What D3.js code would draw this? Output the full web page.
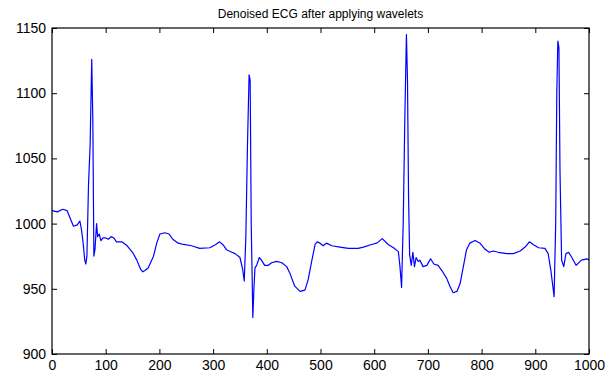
<!DOCTYPE html>
<html>
<head>
<meta charset="utf-8">
<script src="https://cdn.jsdelivr.net/npm/d3@7"></script>
<style>
  body { margin: 0; background: #fff; }
  text { font-family: "Liberation Sans", Arial, sans-serif; fill: #000; }
</style>
</head>
<body>
<div id="chart"></div>
<script>
// sample index
var sampleX = [0, 10, 20, 28, 35, 40, 47, 52, 55, 58, 61, 63, 65, 68, 71, 74, 76, 78, 80, 83, 85, 88, 91, 95, 100,
  105, 110, 115, 120, 130, 140, 150, 158, 165, 169, 173, 179, 189, 195, 201, 210, 218, 225, 235, 245, 260, 275,
  294, 305, 312, 318, 325, 335, 341, 350, 355, 358, 361, 364, 367, 369, 371, 374, 376, 378, 381, 386, 390, 396,
  403, 409, 418, 428, 437, 443, 452, 462, 471, 477, 484, 490, 494, 499, 505, 511, 521, 536, 552, 570, 580, 595,
  605, 615, 626, 636, 645, 648, 651, 654, 657, 660, 662, 664, 666, 669, 672, 675, 678, 682, 685, 691, 698, 705,
  711, 719, 726, 735, 741, 747, 754, 760, 766, 772, 778, 788, 797, 806, 814, 822, 831, 847, 859, 872, 881, 889,
  896, 906, 918, 924, 929, 935, 938, 940, 942, 944, 946, 949, 953, 957, 962, 968, 976, 986, 996, 1000];

// denoised ECG amplitude
var ecgValues = [1010, 1009, 1011, 1010, 1003, 998, 999, 1002, 995, 985, 972, 969, 975, 1030, 1060, 1126, 1080, 975, 980, 1000, 990, 992, 987, 989, 989,
  988, 990, 989, 986, 986, 983, 978, 972, 965, 963, 964, 966, 975, 985, 992, 993, 992, 988, 985, 984, 983, 981,
  981.5, 984, 986, 984, 980, 978, 977, 974, 965, 956, 990, 1060, 1114, 1110, 1000, 928, 950, 966, 968, 974, 972, 968,
  968, 970, 971, 970, 967, 962, 952, 948, 949, 957, 972, 984, 986, 985, 983, 985, 983, 982, 981, 981, 982, 984,
  985, 988.5, 984, 981.5, 978.5, 967, 951, 1000, 1080, 1145, 1110, 1020, 976, 968, 978, 967, 974, 971, 972, 967, 968, 973,
  969, 968, 964, 958, 952, 947, 948, 954, 967, 980, 985, 987, 985, 980.5, 978, 979, 978, 977, 977, 979, 982, 986,
  984, 981.5, 981, 977, 964, 944, 1000, 1100, 1140, 1135, 1040, 972, 967, 977, 978, 974, 968, 972, 973, 972];

var xTicks = [0, 100, 200, 300, 400, 500, 600, 700, 800, 900, 1000];
var yTicks = [900, 950, 1000, 1050, 1100, 1150];
var title = "Denoised ECG after applying wavelets";

var fullwidth = 616, fullheight = 375;
var margin = { top: 28, right: 27, bottom: 21, left: 52 };
var width = fullwidth - margin.left - margin.right;
var height = fullheight - margin.top - margin.bottom;

var svg = d3.select("#chart").append("svg")
  .attr("width", fullwidth)
  .attr("height", fullheight);

var g = svg.append("g")
  .attr("transform", "translate(" + margin.left + "," + margin.top + ")");

var xScale = d3.scaleLinear().domain([0, 1000]).range([0, width]);
var yScale = d3.scaleLinear().domain([900, 1150]).range([height, 0]);

var data = sampleX.map(function(x, i) { return { x: x, y: ecgValues[i] }; });

var line = d3.line()
  .x(function(d) { return xScale(d.x); })
  .y(function(d) { return yScale(d.y); });

g.append("path")
  .datum(data)
  .attr("d", line)
  .attr("fill", "none")
  .attr("stroke", "#0000ff")
  .attr("stroke-width", 1.2)
  .attr("stroke-linejoin", "round");

// matlab style: ticks inward on all four sides
var tl = 5;
var fmt = d3.format("d");
var xb = g.append("g").attr("transform", "translate(0," + height + ")")
  .call(d3.axisBottom(xScale).tickValues(xTicks).tickSize(-tl).tickPadding(6).tickFormat(fmt));
var xt = g.append("g")
  .call(d3.axisTop(xScale).tickValues(xTicks).tickSize(-tl).tickFormat(""));
var yl = g.append("g")
  .call(d3.axisLeft(yScale).tickValues(yTicks).tickSize(-tl).tickPadding(6).tickFormat(fmt));
var yr = g.append("g").attr("transform", "translate(" + width + ",0)")
  .call(d3.axisRight(yScale).tickValues(yTicks).tickSize(-tl).tickFormat(""));

[xb, xt, yl, yr].forEach(function(a) {
  a.select(".domain").remove();
  a.selectAll(".tick line").attr("stroke", "#000");
  a.selectAll("text").style("font-size", "14px").attr("fill", "#000");
});

g.append("rect")
  .attr("width", width)
  .attr("height", height)
  .attr("fill", "none")
  .attr("stroke", "#000")
  .attr("stroke-width", 1.2);

svg.append("text")
  .attr("x", margin.left + width / 2)
  .attr("y", 18)
  .attr("text-anchor", "middle")
  .style("font-size", "12px")
  .text(title);
</script>
</body>
</html>
